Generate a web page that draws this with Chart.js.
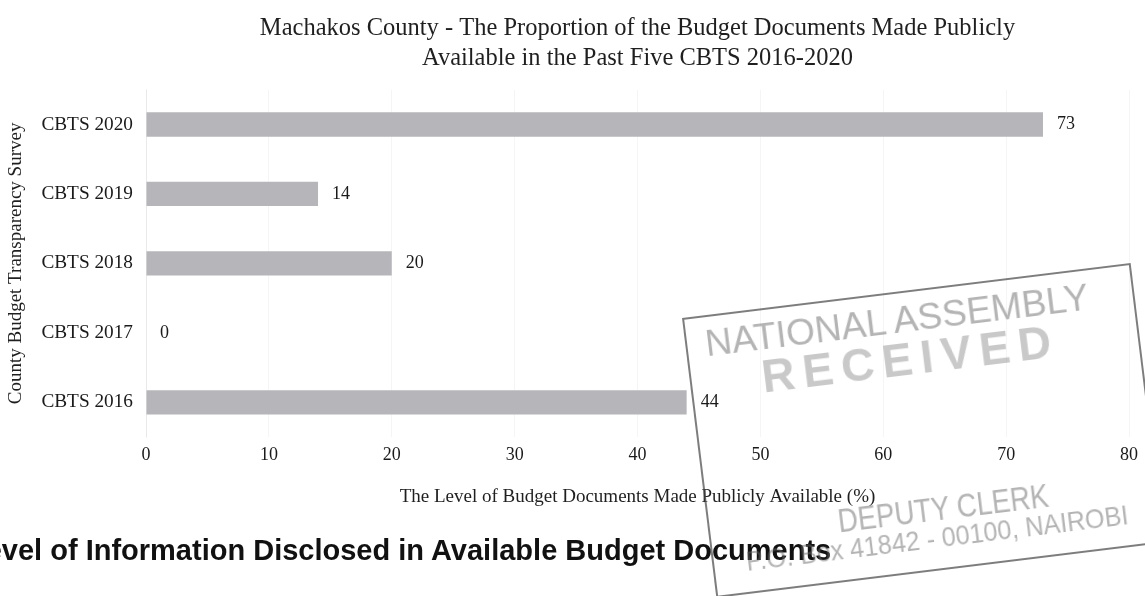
<!DOCTYPE html>
<html>
<head>
<meta charset="utf-8">
<title>Machakos County - CBTS 2016-2020</title>
<script src="https://cdn.jsdelivr.net/npm/chart.js@4.4.1/dist/chart.umd.min.js"></script>
<style>
  html, body { margin: 0; padding: 0; background: #fff; }
  #wrap { position: relative; width: 1145px; height: 596px; overflow: hidden; }
  #budgetChart { position: absolute; left: 0; top: 0; }
  .heading {
    position: absolute; left: -32px; top: 536px;
    font: bold 29px/29px "Liberation Sans", Arial, sans-serif;
    color: #111; white-space: nowrap;
  }
  .stamp {
    position: absolute; left: 682px; top: 318px;
    width: 448px; height: 278px;
    border: 2px solid rgba(70, 70, 70, 0.7);
    transform: rotate(-7deg); transform-origin: 0 0;
    font-family: "Liberation Sans", Arial, sans-serif;
    color: rgba(105, 105, 105, 0.5);
  }
  .stamp span { position: absolute; white-space: nowrap; transform-origin: 0 50%; }
</style>
</head>
<body>
<div id="wrap">
  <canvas id="budgetChart" width="1145" height="596"></canvas>
  <div class="heading">Level of Information Disclosed in Available Budget Documents</div>
  <div class="stamp">
    <span style="left:18px; top:6px; font-size:37px;">NATIONAL ASSEMBLY</span>
    <span style="left:70px; top:39px; font-size:46px; font-weight:bold; letter-spacing:8px; color:rgba(120,120,120,0.4);">RECEIVED</span>
    <span style="left:128px; top:200px; font-size:33px; transform:scaleX(0.84);">DEPUTY CLERK</span>
    <span style="left:32px; top:232px; font-size:28px; transform:scaleX(0.9);">P.O. Box 41842 - 00100, NAIROBI</span>
  </div>
</div>

<script>
// Dados da pesquisa CBTS (ordem de cima para baixo)
const surveys = ["CBTS 2020", "CBTS 2019", "CBTS 2018", "CBTS 2017", "CBTS 2016"];
const disclosed = [73, 14, 20, 0, 44];
const xMin = 0;
const xMax = 80;
const xStep = 10;

const serif = '"Liberation Serif", "Times New Roman", serif';

// Rótulos de valor no fim de cada barra
const barValueLabels = {
  id: "barValueLabels",
  afterDatasetsDraw(chart) {
    const { ctx } = chart;
    const meta = chart.getDatasetMeta(0);
    ctx.save();
    ctx.font = `18px ${serif}`;
    ctx.fillStyle = "#1a1a1a";
    ctx.textAlign = "left";
    ctx.textBaseline = "middle";
    meta.data.forEach((bar, i) => {
      ctx.fillText(String(disclosed[i]), bar.x + 14, bar.y);
    });
    ctx.restore();
  }
};

const ctx = document.getElementById("budgetChart").getContext("2d");

new Chart(ctx, {
  type: "bar",
  data: {
    labels: surveys,
    datasets: [{
      data: disclosed,
      backgroundColor: "#b6b6ba",
      borderWidth: 0,
      barPercentage: 0.35,
      categoryPercentage: 1
    }]
  },
  options: {
    indexAxis: "y",
    responsive: false,
    animation: false,
    layout: { padding: { left: 0, right: 13, top: 0, bottom: 81 } },
    plugins: {
      legend: { display: false },
      tooltip: { enabled: false },
      title: {
        display: true,
        fullSize: false,
        text: [
          "Machakos County - The Proportion of the Budget Documents Made Publicly",
          "Available in the Past Five CBTS 2016-2020"
        ],
        color: "#1f1f1f",
        font: { family: serif, size: 24.5, weight: "normal", lineHeight: 1.2 },
        padding: { top: 14, bottom: 17 }
      }
    },
    scales: {
      x: {
        min: xMin,
        max: xMax,
        ticks: {
          stepSize: xStep,
          color: "#1a1a1a",
          font: { family: serif, size: 18 },
          padding: 7
        },
        grid: { color: "rgba(0,0,0,0.04)", drawTicks: false },
        border: { display: false },
        title: {
          display: true,
          text: "The Level of Budget Documents Made Publicly Available (%)",
          color: "#1f1f1f",
          font: { family: serif, size: 19, lineHeight: 1.2 },
          padding: { top: 0, bottom: 7 }
        },
        afterFit(scale) { scale.height = 78; }
      },
      y: {
        ticks: {
          color: "#1a1a1a",
          font: { family: serif, size: 19.3 },
          padding: 13
        },
        grid: { display: false, drawTicks: false },
        border: { color: "rgba(0,0,0,0.05)" },
        title: {
          display: true,
          text: "County Budget Transparency Survey",
          color: "#1f1f1f",
          font: { family: serif, size: 19, lineHeight: 1.2 },
          padding: { top: 5, bottom: 0 }
        },
        afterFit(scale) { scale.width = 146; }
      }
    }
  },
  plugins: [barValueLabels]
});
</script>
</body>
</html>
